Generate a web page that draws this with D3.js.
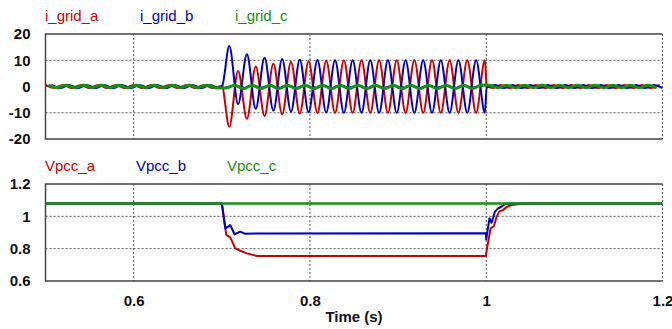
<!DOCTYPE html>
<html>
<head>
<meta charset="utf-8">
<script src="https://cdn.jsdelivr.net/npm/d3@7/dist/d3.min.js"></script>
<style>
  body { margin: 0; background: #fff; }
  svg { display: block; font-family: "Liberation Sans", Arial, sans-serif; }
  .tick text { font-size: 15px; font-weight: bold; fill: #111; }
  .legend { font-size: 15px; }
</style>
</head>
<body>
<div id="chart"></div>
<script>
// Tick values and labels
const xTicks = [0.6, 0.8, 1.0, 1.2];
const currentTicks = [20, 10, 0, -10, -20];
const voltageTicks = [1.2, 1.0, 0.8, 0.6];
const currentNames = ["i_grid_a", "i_grid_b", "i_grid_c"];
const voltageNames = ["Vpcc_a", "Vpcc_b", "Vpcc_c"];
const colors = ["#cc0000", "#0000c0", "#129112"];

// Grid currents [time (s), current]
const iGridA = [
  [0.500,0.6],[0.510,-0.6],[0.520,0.6],[0.530,-0.6],[0.540,0.6],[0.550,-0.6],[0.560,0.6],[0.570,-0.6],
  [0.580,0.6],[0.590,-0.6],[0.600,0.6],[0.610,-0.6],[0.620,0.6],[0.630,-0.6],[0.640,0.6],[0.650,-0.6],
  [0.660,0.6],[0.670,-0.6],[0.680,0.6],[0.690,-0.6],[0.700,0.2],
  [0.7085,-15.3],[0.7185,5.9],[0.7285,-12.3],[0.7385,7.6],[0.7485,-11.2],[0.7585,8.7],[0.7685,-10.6],
  [0.7785,9.3],[0.7885,-10.3],[0.7985,9.6],[0.8085,-10.1],[0.8185,9.8],[0.8285,-10.0],[0.8385,9.9],
  [0.8485,-10.0],[0.8585,10.0],[0.8685,-10.0],[0.8785,10.0],[0.8885,-10.0],[0.8985,10.0],[0.9085,-10.0],
  [0.9185,10.0],[0.9285,-10.0],[0.9385,10.0],[0.9485,-10.0],[0.9585,10.0],[0.9685,-10.0],[0.9785,10.0],
  [0.9885,-10.0],[0.9985,10.0],
  [1.0005,0.4],[1.0067,-0.6],[1.0167,0.6],[1.0267,-0.6],[1.0367,0.6],[1.0467,-0.6],[1.0567,0.6],
  [1.0667,-0.6],[1.0767,0.6],[1.0867,-0.6],[1.0967,0.6],[1.1067,-0.6],[1.1167,0.6],[1.1267,-0.6],
  [1.1367,0.6],[1.1467,-0.6],[1.1567,0.6],[1.1667,-0.6],[1.1767,0.6],[1.1867,-0.6],[1.1967,0.6]
];
const iGridB = [
  [0.5067,0.6],[0.5167,-0.6],[0.5267,0.6],[0.5367,-0.6],[0.5467,0.6],[0.5567,-0.6],[0.5667,0.6],
  [0.5767,-0.6],[0.5867,0.6],[0.5967,-0.6],[0.6067,0.6],[0.6167,-0.6],[0.6267,0.6],[0.6367,-0.6],
  [0.6467,0.6],[0.6567,-0.6],[0.6667,0.6],[0.6767,-0.6],[0.6867,0.6],[0.6967,-0.6],[0.7005,0.3],
  [0.7085,15.4],[0.7185,-6.7],[0.7285,12.3],[0.7385,-8.5],[0.7485,11.0],[0.7585,-9.2],[0.7685,10.5],
  [0.7785,-9.6],[0.7885,10.2],[0.7985,-9.8],[0.8085,10.1],[0.8185,-9.9],[0.8285,10.0],[0.8385,-10.0],
  [0.8485,10.0],[0.8585,-10.0],[0.8685,10.0],[0.8785,-10.0],[0.8885,10.0],[0.8985,-10.0],[0.9085,10.0],
  [0.9185,-10.0],[0.9285,10.0],[0.9385,-10.0],[0.9485,10.0],[0.9585,-10.0],[0.9685,10.0],[0.9785,-10.0],
  [0.9885,10.0],[0.9985,-10.0],
  [1.0005,-0.4],[1.010,0.6],[1.020,-0.6],[1.030,0.6],[1.040,-0.6],[1.050,0.6],[1.060,-0.6],[1.070,0.6],
  [1.080,-0.6],[1.090,0.6],[1.100,-0.6],[1.110,0.6],[1.120,-0.6],[1.130,0.6],[1.140,-0.6],[1.150,0.6],
  [1.160,-0.6],[1.170,0.6],[1.180,-0.6],[1.190,0.6],[1.200,-0.6]
];
const iGridC = [
  [0.5033,0.5],[0.5133,-0.5],[0.5233,0.5],[0.5333,-0.5],[0.5433,0.5],[0.5533,-0.5],[0.5633,0.5],
  [0.5733,-0.5],[0.5833,0.5],[0.5933,-0.5],[0.6033,0.5],[0.6133,-0.5],[0.6233,0.5],[0.6333,-0.5],
  [0.6433,0.5],[0.6533,-0.5],[0.6633,0.5],[0.6733,-0.5],[0.6833,0.5],[0.6933,-0.5],
  [0.7045,-0.6],[0.7145,0.5],[0.7245,-0.8],[0.7345,0.5],[0.7445,-0.8],[0.7545,0.5],[0.7645,-0.8],
  [0.7745,0.5],[0.7845,-0.8],[0.7945,0.5],[0.8045,-0.8],[0.8145,0.5],[0.8245,-0.8],[0.8345,0.5],
  [0.8445,-0.8],[0.8545,0.5],[0.8645,-0.8],[0.8745,0.5],[0.8845,-0.8],[0.8945,0.5],[0.9045,-0.8],
  [0.9145,0.5],[0.9245,-0.8],[0.9345,0.5],[0.9445,-0.8],[0.9545,0.5],[0.9645,-0.8],[0.9745,0.5],
  [0.9845,-0.8],[0.9945,0.6],
  [1.0033,0.5],[1.0133,-0.5],[1.0233,0.5],[1.0333,-0.5],[1.0433,0.5],[1.0533,-0.5],[1.0633,0.5],
  [1.0733,-0.5],[1.0833,0.5],[1.0933,-0.5],[1.1033,0.5],[1.1133,-0.5],[1.1233,0.5],[1.1333,-0.5],
  [1.1433,0.5],[1.1533,-0.5],[1.1633,0.5],[1.1733,-0.5],[1.1833,0.5],[1.1933,-0.5]
];

// PCC voltages [time (s), pu]
const vpccA = [
  [0.5,1.08],[0.7,1.08],[0.7002,1.076],[0.7051,0.885],[0.7096,0.870],[0.7153,0.802],[0.721,0.787],
  [0.7285,0.771],[0.740,0.755],[0.9996,0.755],[1.0012,0.812],[1.005,0.926],[1.0088,0.940],
  [1.0118,0.998],[1.0148,1.029],[1.0193,1.040],[1.0238,1.060],[1.0288,1.070],[1.038,1.076],
  [1.050,1.080],[1.2,1.08]
];
const vpccB = [
  [0.5,1.08],[0.7,1.08],[0.7002,1.076],[0.704,0.926],[0.7096,0.946],[0.7145,0.889],[0.721,0.905],
  [0.726,0.893],[0.9996,0.895],[1.0,0.858],[1.0037,0.988],[1.006,0.960],[1.0099,1.029],
  [1.0137,1.050],[1.0174,1.060],[1.0212,1.076],[1.030,1.080],[1.2,1.08]
];
const vpccC = [[0.5,1.08],[0.7,1.08],[1.0,1.08],[1.2,1.08]];

const width = 672, height = 329;
const svg = d3.select("#chart").append("svg")
    .attr("width", width)
    .attr("height", height);

const x = d3.scaleLinear().domain([0.5, 1.2]).range([45.5, 662.5]);
// plain hyphen for negatives, like the source plot
const plainFormat = d => String(d);

function drawPanel(opts) {
    const y = d3.scaleLinear().domain(opts.domain).range([opts.bottom, opts.top]);
    const g = svg.append("g");
    const clipId = "clip-" + opts.id;

    svg.append("clipPath").attr("id", clipId)
        .append("rect")
        .attr("x", x.range()[0]).attr("y", opts.top)
        .attr("width", x.range()[1] - x.range()[0])
        .attr("height", opts.bottom - opts.top);

    // dashed grid
    g.selectAll(".vgrid").data(xTicks).enter().append("line")
        .attr("x1", d => x(d)).attr("x2", d => x(d))
        .attr("y1", opts.top).attr("y2", opts.bottom)
        .attr("stroke", "#555").attr("stroke-width", 1)
        .attr("stroke-dasharray", "2,2");
    g.selectAll(".hgrid").data(opts.grid).enter().append("line")
        .attr("x1", x.range()[0]).attr("x2", x.range()[1])
        .attr("y1", d => y(d)).attr("y2", d => y(d))
        .attr("stroke", "#555").attr("stroke-width", 1)
        .attr("stroke-dasharray", "2,2");

    // frame (top, left, bottom solid)
    g.append("path")
        .attr("d", `M${x.range()[1]},${opts.top}H${x.range()[0]}V${opts.bottom}H${x.range()[1]}`)
        .attr("fill", "none").attr("stroke", "#444").attr("stroke-width", 1.5);

    // series
    const line = d3.line()
        .x(d => x(d[0]))
        .y(d => y(d[1]))
        .curve(opts.curve);
    const lines = g.append("g").attr("clip-path", `url(#${clipId})`);
    opts.series.forEach((s, i) => {
        lines.append("path")
            .datum(s)
            .attr("d", line)
            .attr("fill", "none")
            .attr("stroke", colors[i])
            .attr("stroke-width", i === 2 ? opts.greenWidth : 2)
            .attr("stroke-linejoin", "round");
    });

    // y axis labels
    svg.append("g")
        .attr("transform", `translate(${x.range()[0]},0)`)
        .call(d3.axisLeft(y).tickValues(opts.ticks).tickSize(0).tickPadding(15)
            .tickFormat(plainFormat))
        .call(a => a.select(".domain").remove());

    // legend labels
    svg.append("g").selectAll("text")
        .data(opts.names).enter().append("text")
        .attr("class", "legend")
        .attr("x", (d, i) => opts.legendX[i])
        .attr("y", opts.legendY)
        .attr("fill", (d, i) => colors[i])
        .text(d => d);
    return y;
}

drawPanel({
    id: "current", domain: [-20, 20], top: 34, bottom: 139,
    grid: [10, 0, -10], ticks: currentTicks,
    series: [iGridA, iGridB, iGridC], curve: d3.curveMonotoneX, greenWidth: 3,
    names: currentNames, legendX: [45, 140, 235], legendY: 21
});

drawPanel({
    id: "voltage", domain: [0.6, 1.2], top: 184, bottom: 281,
    grid: [1.0, 0.8], ticks: voltageTicks,
    series: [vpccA, vpccB, vpccC], curve: d3.curveLinear, greenWidth: 2.5,
    names: voltageNames, legendX: [45, 136, 227], legendY: 171
});

// x axis labels
svg.append("g")
    .attr("transform", "translate(0,281)")
    .call(d3.axisBottom(x).tickValues(xTicks).tickSize(0).tickPadding(14)
        .tickFormat(plainFormat))
    .call(a => a.select(".domain").remove());

svg.append("text")
    .attr("x", (x.range()[0] + x.range()[1]) / 2)
    .attr("y", 322)
    .attr("text-anchor", "middle")
    .attr("font-size", 15)
    .attr("font-weight", "bold")
    .attr("fill", "#111")
    .text("Time (s)");
</script>
</body>
</html>
